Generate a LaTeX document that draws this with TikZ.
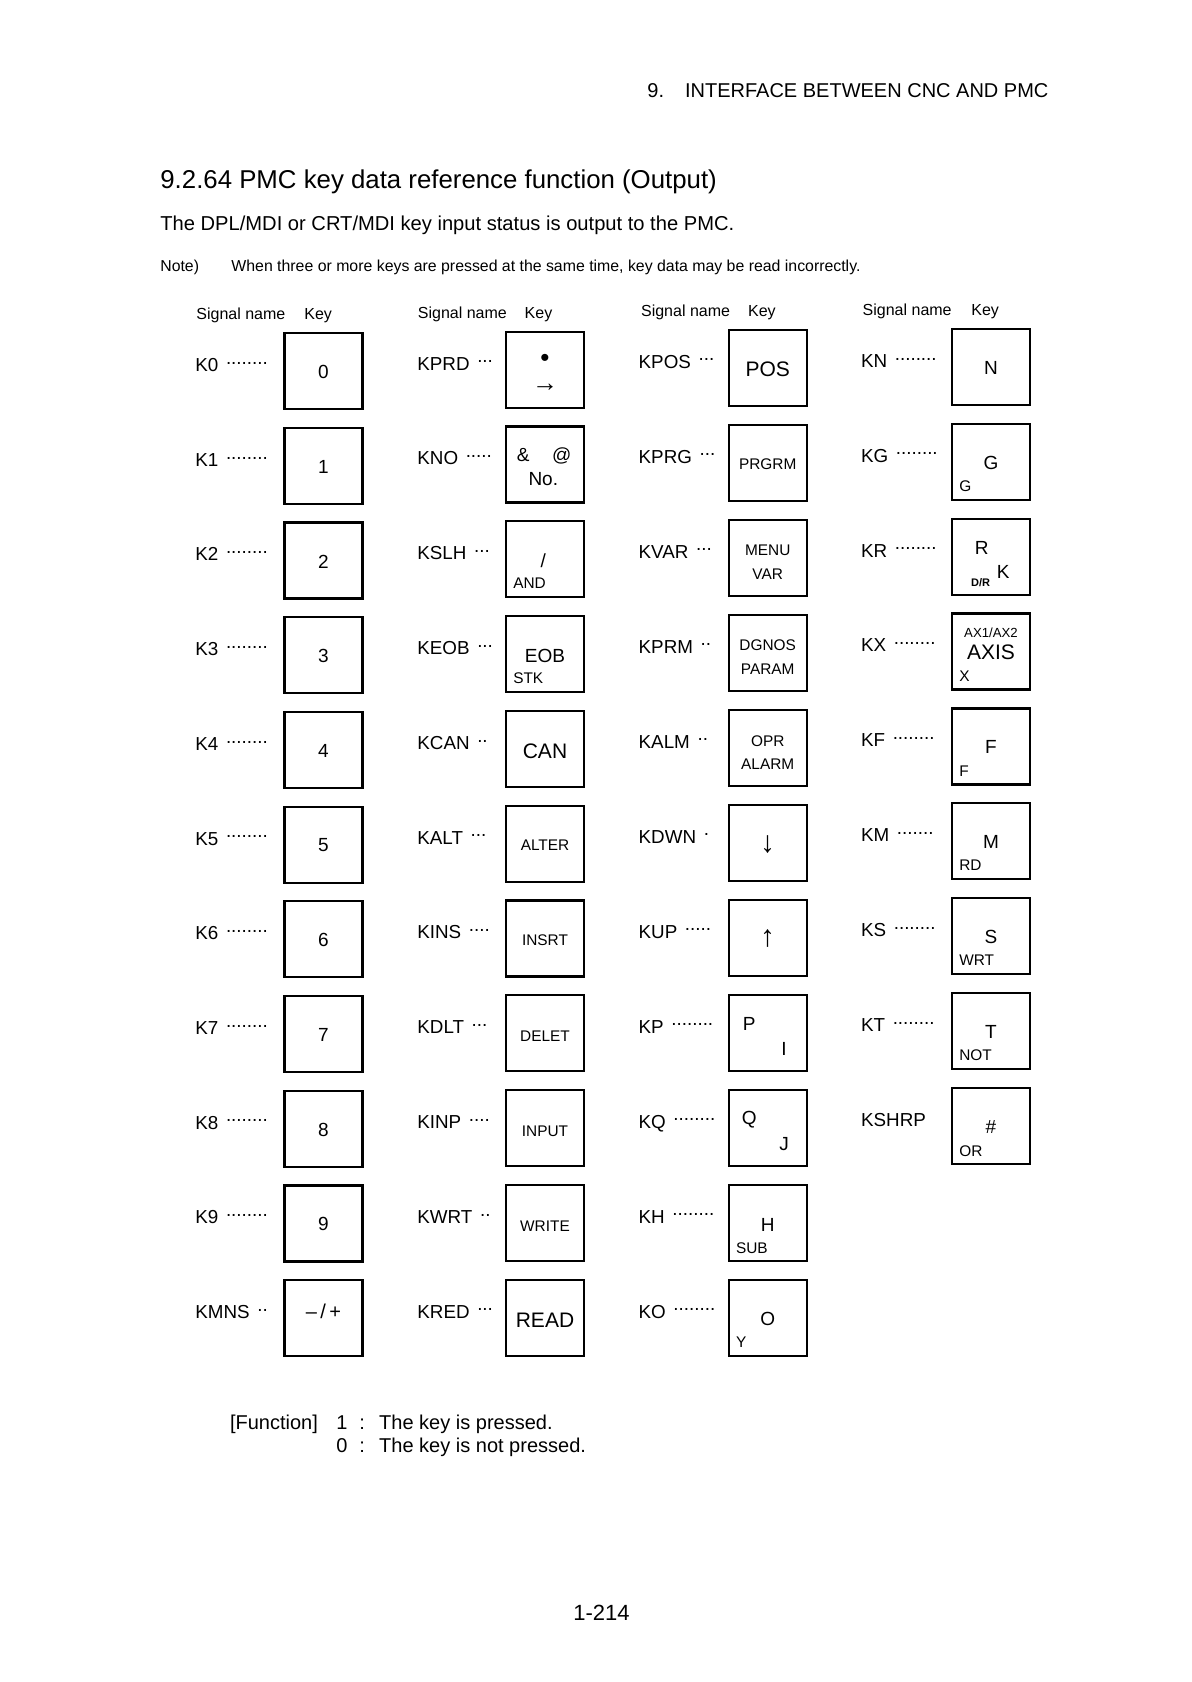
\documentclass[tikz,border=0pt]{standalone}
\usepackage{fontspec}
\setmainfont{Liberation Sans}
\newcommand\dts[1]{\hspace{1.2pt}\raisebox{3.6pt}{#1}}
\newcommand\fs[1]{\fontsize{#1}{#1}\selectfont}
\newcommand\kb[5]{%
  \node[keybox] (#1) at (#2,#3) {};
  \node[lab] (#1L) at (#4,#3+39.5) {#5};}
\tikzset{
  keybox/.style={draw, line width=1.1pt, minimum width=39pt, minimum height=38pt, inner sep=0pt, anchor=north},
  lab/.style={anchor=base west, inner sep=0pt, font=\fs{9.4}},
  kt/.style={anchor=center, inner sep=0pt, font=\fs{9.5}},
  ktm/.style={anchor=center, inner sep=0pt, font=\fs{7.7}},
  ktl/.style={anchor=center, inner sep=0pt, font=\fs{10.5}},
  kts/.style={anchor=west, inner sep=0pt, font=\fs{7.7}},
  hdr/.style={anchor=base west, inner sep=0pt, font=\fs{8}},
  txt/.style={anchor=base west, inner sep=0pt},
}
\begin{document}
\begin{tikzpicture}[x=0.5pt,y=-0.5pt]
\fill[white] (0,0) rectangle (1191,1682);
\useasboundingbox (0,0) rectangle (1191,1682);

% page header and intro
\node[txt, font=\fs{10}] (runhead) at (647,97.5) {9.\hspace{10.5pt}INTERFACE BETWEEN CNC AND PMC};
\node[txt, font=\fs{12.9}] (title) at (160,188.3) {9.2.64 PMC key data reference function (Output)};
\node[txt, font=\fs{10.07}] (intro) at (160,230.5) {The DPL/MDI or CRT/MDI key input status is output to the PMC.};
\node[txt, font=\fs{7.9}] (noteh) at (160,271.5) {Note)};
\node[txt, font=\fs{7.93}] (note) at (231,271.5) {When three or more keys are pressed at the same time, key data may be read incorrectly.};

% column headings
\node[hdr] (h1s) at (196,319) {Signal name};   \node[hdr] (h1k) at (304,319) {Key};
\node[hdr] (h2s) at (417.5,318) {Signal name}; \node[hdr] (h2k) at (524.3,318) {Key};
\node[hdr] (h3s) at (640.7,316.5) {Signal name}; \node[hdr] (h3k) at (747.7,316.5) {Key};
\node[hdr] (h4s) at (862.3,315) {Signal name}; \node[hdr] (h4k) at (971,315) {Key};

% ---------- column 1 ----------
\kb{ka0}{323.5}{332}{195}{K0 \dts{........}}
\kb{ka1}{323.5}{426.7}{195}{K1 \dts{........}}
\kb{ka2}{323.5}{521.4}{195}{K2 \dts{........}}
\kb{ka3}{323.5}{616.1}{195}{K3 \dts{........}}
\kb{ka4}{323.5}{710.8}{195}{K4 \dts{........}}
\kb{ka5}{323.5}{805.5}{195}{K5 \dts{........}}
\kb{ka6}{323.5}{900.2}{195}{K6 \dts{........}}
\kb{ka7}{323.5}{994.9}{195}{K7 \dts{........}}
\kb{ka8}{323.5}{1089.6}{195}{K8 \dts{........}}
\kb{ka9}{323.5}{1184.3}{195}{K9 \dts{........}}
\kb{ka10}{323.5}{1279}{195}{KMNS \dts{..}}
\node[kt] (ta0) at ([shift={(0,40)}]ka0.north) {0};
\node[kt] (ta1) at ([shift={(0,40)}]ka1.north) {1};
\node[kt] (ta2) at ([shift={(0,40)}]ka2.north) {2};
\node[kt] (ta3) at ([shift={(0,40)}]ka3.north) {3};
\node[kt] (ta4) at ([shift={(0,40)}]ka4.north) {4};
\node[kt] (ta5) at ([shift={(0,40)}]ka5.north) {5};
\node[kt] (ta6) at ([shift={(0,40)}]ka6.north) {6};
\node[kt] (ta7) at ([shift={(0,40)}]ka7.north) {7};
\node[kt] (ta8) at ([shift={(0,40)}]ka8.north) {8};
\node[kt] (ta9) at ([shift={(0,40)}]ka9.north) {9};
\node[kt, font=\fs{10}] (ta10) at ([shift={(0,32)}]ka10.north) {–\,/\,+};

% ---------- column 2 ----------
\kb{kb0}{545}{330.5}{417}{KPRD \dts{...}}
\kb{kb1}{545}{425.3}{417}{KNO \dts{.....}}
\kb{kb2}{545}{520.1}{417}{KSLH \dts{...}}
\kb{kb3}{545}{614.9}{417}{KEOB \dts{...}}
\kb{kb4}{545}{709.7}{417}{KCAN \dts{..}}
\kb{kb5}{545}{804.5}{417}{KALT \dts{...}}
\kb{kb6}{545}{899.3}{417}{KINS \dts{....}}
\kb{kb7}{545}{994.1}{417}{KDLT \dts{...}}
\kb{kb8}{545}{1088.9}{417}{KINP \dts{....}}
\kb{kb9}{545}{1183.7}{417}{KWRT \dts{..}}
\kb{kb10}{545}{1278.5}{417}{KRED \dts{...}}
\node[kt, font=\fs{13}] (tb0a) at ([shift={(0,30)}]kb0.north) {•};
\node[kt, font=\fs{13}] (tb0b) at ([shift={(0,57)}]kb0.north) {→};
\node[kt] (tb1a) at ([shift={(-21.7,30)}]kb1.north) {\&};
\node[kt] (tb1b) at ([shift={(16.7,31)}]kb1.north) {@};
\node[kt] (tb1c) at ([shift={(-1.7,54)}]kb1.north) {No.};
\node[kt] (tb2a) at ([shift={(-1.7,41)}]kb2.north) {/};
\node[kts] (tb2b) at ([shift={(8,63.5)}]kb2.north west) {AND};
\node[kt] (tb3a) at ([shift={(0,41)}]kb3.north) {EOB};
\node[kts] (tb3b) at ([shift={(8,63.7)}]kb3.north west) {STK};
\node[ktl] (tb4) at ([shift={(0,41.3)}]kb4.north) {CAN};
\node[ktm] (tb5) at ([shift={(0,41)}]kb5.north) {ALTER};
\node[ktm] (tb6) at ([shift={(0,41)}]kb6.north) {INSRT};
\node[ktm] (tb7) at ([shift={(0,42.3)}]kb7.north) {DELET};
\node[ktm] (tb8) at ([shift={(0,42.3)}]kb8.north) {INPUT};
\node[ktm] (tb9) at ([shift={(0,42.3)}]kb9.north) {WRITE};
\node[ktl] (tb10) at ([shift={(0,41.3)}]kb10.north) {READ};

% ---------- column 3 ----------
\kb{kc0}{767.7}{328.5}{638.3}{KPOS \dts{...}}
\kb{kc1}{767.7}{423.5}{638.3}{KPRG \dts{...}}
\kb{kc2}{767.7}{518.5}{638.3}{KVAR \dts{...}}
\kb{kc3}{767.7}{613.5}{638.3}{KPRM \dts{..}}
\kb{kc4}{767.7}{708.5}{638.3}{KALM \dts{..}}
\kb{kc5}{767.7}{803.5}{638.3}{KDWN \dts{.}}
\kb{kc6}{767.7}{898.5}{638.3}{KUP \dts{.....}}
\kb{kc7}{767.7}{993.5}{638.3}{KP \dts{........}}
\kb{kc8}{767.7}{1088.5}{638.3}{KQ \dts{........}}
\kb{kc9}{767.7}{1183.5}{638.3}{KH \dts{........}}
\kb{kc10}{767.7}{1278.5}{638.3}{KO \dts{........}}
\node[ktl] (tc0) at ([shift={(0,40.7)}]kc0.north) {POS};
\node[ktm] (tc1) at ([shift={(0,40.7)}]kc1.north) {PRGRM};
\node[ktm] (tc2a) at ([shift={(0,31.7)}]kc2.north) {MENU};
\node[ktm] (tc2b) at ([shift={(0,56)}]kc2.north) {VAR};
\node[ktm] (tc3a) at ([shift={(0,31.7)}]kc3.north) {DGNOS};
\node[ktm] (tc3b) at ([shift={(0,55.7)}]kc3.north) {PARAM};
\node[ktm] (tc4a) at ([shift={(0,32.3)}]kc4.north) {OPR};
\node[ktm] (tc4b) at ([shift={(0,55.7)}]kc4.north) {ALARM};
\node[kt, font=\fs{15}] (tc5) at ([shift={(0,41)}]kc5.north) {↓};
\node[kt, font=\fs{15}] (tc6) at ([shift={(0,40)}]kc6.north) {↑};
\node[kt] (tc7a) at ([shift={(-18.4,30.6)}]kc7.north) {P};
\node[kt] (tc7b) at ([shift={(16.3,55)}]kc7.north) {I};
\node[kt] (tc8a) at ([shift={(-18.4,31.5)}]kc8.north) {Q};
\node[kt] (tc8b) at ([shift={(16.3,55.5)}]kc8.north) {J};
\node[kt] (tc9a) at ([shift={(0,41)}]kc9.north) {H};
\node[kts] (tc9b) at ([shift={(8,64.4)}]kc9.north west) {SUB};
\node[kt] (tc10a) at ([shift={(0,40.7)}]kc10.north) {O};
\node[kts] (tc10b) at ([shift={(8,64)}]kc10.north west) {Y};

% ---------- column 4 ----------
\kb{kd0}{991}{327.7}{860.7}{KN \dts{........}}
\kb{kd1}{991}{422.6}{860.7}{KG \dts{........}}
\kb{kd2}{991}{517.5}{860.7}{KR \dts{........}}
\kb{kd3}{991}{612.4}{860.7}{KX \dts{........}}
\kb{kd4}{991}{707.3}{860.7}{KF \dts{........}}
\kb{kd5}{991}{802.2}{860.7}{KM \dts{.......}}
\kb{kd6}{991}{897.1}{860.7}{KS \dts{........}}
\kb{kd7}{991}{992}{860.7}{KT \dts{........}}
\kb{kd8}{991}{1086.9}{860.7}{KSHRP}
\node[kt] (td0) at ([shift={(0,40)}]kd0.north) {N};
\node[kt] (td1a) at ([shift={(0,40)}]kd1.north) {G};
\node[kts] (td1b) at ([shift={(8,63.3)}]kd1.north west) {G};
\node[kt] (td2a) at ([shift={(-9.3,30)}]kd2.north) {R};
\node[kt] (td2b) at ([shift={(12.3,54)}]kd2.north) {K};
\node[kt, font=\fs{5.5}\bfseries] (td2c) at ([shift={(-10.3,64.7)}]kd2.north) {D/R};
\node[kt, font=\fs{6.6}] (td3a) at ([shift={(0,20.7)}]kd3.north) {AX1/AX2};
\node[ktl] (td3b) at ([shift={(0,40)}]kd3.north) {AXIS};
\node[kts] (td3c) at ([shift={(8,63.3)}]kd3.north west) {X};
\node[kt] (td4a) at ([shift={(0,40)}]kd4.north) {F};
\node[kts] (td4b) at ([shift={(8,63.7)}]kd4.north west) {F};
\node[kt] (td5a) at ([shift={(0,40)}]kd5.north) {M};
\node[kts] (td5b) at ([shift={(8,63.3)}]kd5.north west) {RD};
\node[kt] (td6a) at ([shift={(0,40)}]kd6.north) {S};
\node[kts] (td6b) at ([shift={(8,62.7)}]kd6.north west) {WRT};
\node[kt] (td7a) at ([shift={(0,40)}]kd7.north) {T};
\node[kts] (td7b) at ([shift={(8,63.3)}]kd7.north west) {NOT};
\node[kt] (td8a) at ([shift={(0,40)}]kd8.north) {\#};
\node[kts] (td8b) at ([shift={(8,64)}]kd8.north west) {OR};

% function description
\node[txt, font=\fs{10}] (fn) at (229.6,1429) {[Function]};
\node[txt, font=\fs{10}] (f1n) at (336,1429) {1};
\node[txt, font=\fs{10}] (f1c) at (359,1429) {:};
\node[txt, font=\fs{10}] (f1t) at (378.8,1429) {The key is pressed.};
\node[txt, font=\fs{10}] (f0n) at (336,1452) {0};
\node[txt, font=\fs{10}] (f0c) at (359,1452) {:};
\node[txt, font=\fs{10}] (f0t) at (378.8,1452) {The key is not pressed.};

% page number
\node[anchor=base, inner sep=0pt, font=\fs{11}] (pg) at (601.5,1620.5) {1-214};
\end{tikzpicture}
\end{document}
